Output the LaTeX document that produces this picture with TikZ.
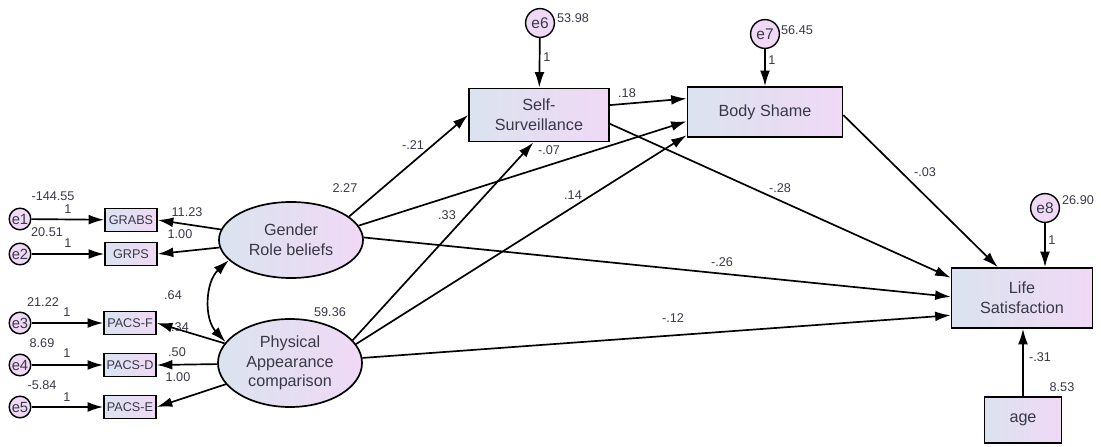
\documentclass[tikz,border=0pt]{standalone}
\usepackage{fontspec}
\setmainfont{Liberation Sans}
\usetikzlibrary{arrows.meta}
\usetikzlibrary{shapes.geometric}
\usetikzlibrary{calc}
\definecolor{mgrey}{rgb}{0.86, 0.89, 0.94}
\definecolor{mpink}{rgb}{0.94, 0.85, 0.96}
\definecolor{mtext}{rgb}{0.22, 0.22, 0.28}
\tikzset{obs/.style = {draw, line width = 1.2pt, left color = mgrey, right color = mpink, inner sep = 0, align = center, text = mtext, font = \fontsize{11.5}{14}\selectfont}}
\tikzset{ind/.style = {obs, minimum width = 1.3cm, minimum height = 0.58cm, font = \fontsize{9}{10}\selectfont}}
\tikzset{lat/.style = {obs, ellipse, minimum width = 3.6cm}}
\tikzset{err/.style = {draw, circle, line width = 1pt, fill = mpink, inner sep = 0, minimum size = 0.54cm, text = mtext, font = \fontsize{10.5}{10}\selectfont}}
\tikzset{bigerr/.style = {err, minimum size = 0.72cm, font = \fontsize{11}{11}\selectfont}}
\tikzset{arr/.style = {line width = 1.2pt, -{Latex[length = 11pt, width = 7pt]}}}
\tikzset{num/.style = {text = mtext, font = \fontsize{9}{10}\selectfont, inner sep = 1pt}}

\begin{document}
\begin{tikzpicture}[x = 0.025cm, y = -0.025cm]
      \useasboundingbox (0, 0) rectangle (1101, 447);

      % measurement part
      \node [err] (e1) at (20, 219) {e1};
      \node [err] (e2) at (20, 254) {e2};
      \node [err] (e3) at (20, 323) {e3};
      \node [err] (e4) at (20, 365) {e4};
      \node [err] (e5) at (20, 407) {e5};
      \node [ind] (grabs) at (131, 220) {GRABS};
      \node [ind] (grps) at (131, 254) {GRPS};
      \node [ind] (pacsf) at (130, 323) {PACS-F};
      \node [ind] (pacsd) at (130, 365) {PACS-D};
      \node [ind] (pacse) at (130, 407) {PACS-E};
      \node [lat, minimum height = 1.9cm] (gender) at (291, 240) {Gender\\Role beliefs};
      \node [lat, minimum height = 2.2cm] (phys) at (290, 363) {Physical\\Appearance\\comparison};

      % structural part
      \node [obs, minimum width = 3.5cm, minimum height = 1.33cm] (ss) at (539, 115) {Self-\\Surveillance};
      \node [obs, minimum width = 3.875cm, minimum height = 1.25cm] (bs) at (765, 112) {Body Shame};
      \node [obs, minimum width = 3.525cm, minimum height = 1.5cm] (ls) at (1022, 298) {Life\\Satisfaction};
      \node [obs, minimum width = 1.925cm, minimum height = 1.15cm] (age) at (1023, 420) {age};
      \node [bigerr] (e6) at (540, 23) {e6};
      \node [bigerr] (e7) at (765, 34) {e7};
      \node [bigerr] (e8) at (1045, 208) {e8};

      \foreach \e/\v in {e1/grabs, e2/grps, e3/pacsf, e4/pacsd, e5/pacse}
        \draw [arr] (\e) -- (\v);
      \draw [arr] (gender) -- (grabs.east);
      \draw [arr] (gender) -- (grps.east);
      \draw [arr] (phys) -- (pacsf.east);
      \draw [arr] (phys) -- (pacsd.east);
      \draw [arr] (phys) -- (pacse.east);
      \draw [line width = 1.2pt, {Latex[length = 11pt, width = 7pt]}-{Latex[length = 11pt, width = 7pt]}] (gender.198) to [bend right = 45] (phys.162);

      \draw [arr] (gender.22) -- (ss.west);
      \draw [arr] (gender.12) -- ($(bs.north west)!0.68!(bs.south west)$);
      \draw [arr] (gender.2) -- ($(ls.north west)!0.48!(ls.south west)$);
      \draw [arr] (phys.20) -- ($(ss.south west)!0.46!(ss.south east)$);
      \draw [arr] (phys.16) -- ($(bs.north west)!0.95!(bs.south west)$);
      \draw [arr] (phys.4) -- ($(ls.north west)!0.78!(ls.south west)$);
      \draw [arr] ($(ss.north east)!0.32!(ss.south east)$) -- ($(bs.north west)!0.24!(bs.south west)$);
      \draw [arr] ($(ss.north east)!0.66!(ss.south east)$) -- ($(ls.north west)!0.17!(ls.south west)$);
      \draw [arr] ($(bs.north east)!0.56!(bs.south east)$) -- ($(ls.north west)!0.33!(ls.north east)$);
      \draw [arr] (e6) -- (ss);
      \draw [arr] (e7) -- (bs);
      \draw [arr] (e8) -- (e8 |- ls.north);
      \draw [arr] (age.north) -- (age.north |- ls.south);

      % estimates
      \node [num] (v1) at (53, 196) {-144.55};
      \node [num] (w1) at (68, 209) {1};
      \node [num] (v2) at (47, 232) {20.51};
      \node [num] (w2) at (68, 243) {1};
      \node [num] (v3) at (43, 302) {21.22};
      \node [num] (w3) at (67, 312) {1};
      \node [num] (v4) at (42, 343) {8.69};
      \node [num] (w4) at (67, 353) {1};
      \node [num] (v5) at (42, 385) {-5.84};
      \node [num] (w5) at (67, 397) {1};
      \node [num] (l1) at (187, 212) {11.23};
      \node [num] (l2) at (180, 234) {1.00};
      \node [num] (cov) at (173, 295) {.64};
      \node [num] (l3) at (180, 327) {.34};
      \node [num] (l4) at (177, 352) {.50};
      \node [num] (l5) at (178, 377) {1.00};
      \node [num] (vg) at (345, 188) {2.27};
      \node [num] (vp) at (330, 312) {59.36};
      \node [num] (b1) at (413, 145) {-.21};
      \node [num] (b2) at (549, 150) {-.07};
      \node [num] (b3) at (447, 215) {.33};
      \node [num] (b4) at (573, 195) {.14};
      \node [num] (b5) at (627, 93) {.18};
      \node [num] (b6) at (780, 188) {-.28};
      \node [num] (b7) at (722, 262) {-.26};
      \node [num] (b8) at (673, 318) {-.12};
      \node [num] (b9) at (925, 172) {-.03};
      \node [num] (b10) at (1040, 357) {-.31};
      \node [num] (v6) at (573, 18) {53.98};
      \node [num] (w6) at (547, 57) {1};
      \node [num] (v7) at (797, 30) {56.45};
      \node [num] (w7) at (772, 60) {1};
      \node [num] (v8) at (1078, 200) {26.90};
      \node [num] (w8) at (1052, 240) {1};
      \node [num] (va) at (1062, 387) {8.53};
    \end{tikzpicture}
\end{document}
